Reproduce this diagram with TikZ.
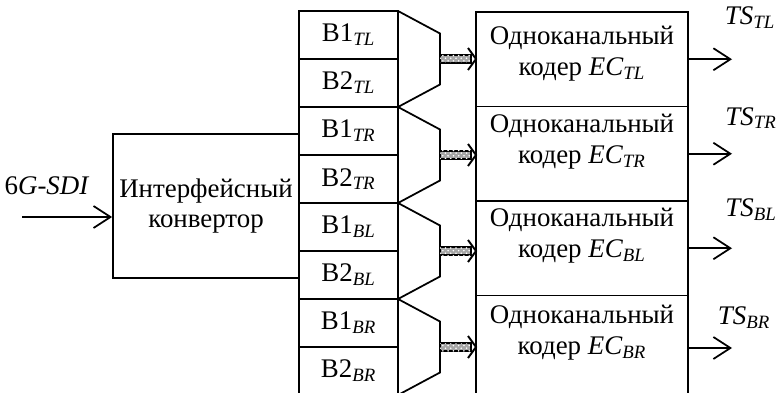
\documentclass[tikz,border=0pt]{standalone}
\usepackage{fontspec}
\setmainfont{Liberation Serif}
\usetikzlibrary{arrows.meta, positioning, calc, patterns}

\begin{document}
\begin{tikzpicture}[
  >={Straight Barb[length=0.34cm, width=0.44cm]},
  every node/.style={font=\fontsize{15.3}{17.6}\selectfont},
  conv/.style={rectangle, draw, line width=1pt, align=center,
    minimum width=3.72cm, minimum height=2.88cm},
  buf/.style={rectangle, draw, line width=1pt, outer sep=0pt, inner sep=0pt,
    minimum width=1.98cm, minimum height=0.96cm},
  coder/.style={rectangle, draw, line width=1pt, outer sep=0pt,
    minimum width=4.24cm, minimum height=1.89cm},
  codertext/.style={align=center, inner sep=0pt},
  mux/.style={draw, line width=1pt, line join=miter},
  sigarrow/.style={->, line width=1pt},
  busshaft/.style={draw, line width=1.1pt, fill=black!35,
    postaction={pattern=crosshatch dots, pattern color=white}},
  bushead/.style={draw, line width=1.1pt},
  ts/.style={font=\itshape\fontsize{15.3}{17.6}\selectfont}
]
  \useasboundingbox (0,0) rectangle (15.54,-7.86);

  % Input and interface converter
  \node[conv] (conv) at (4.12,-4.12) {Интерфейсный\\конвертор};
  \coordinate (sdi) at (0.44,-4.34);
  \node (sdilabel) at (0.94,-3.72) {6\textit{G-SDI}};
  \draw[sigarrow] (sdi) -- (sdi -| conv.west);

  % Buffer column
  \node[buf] (b1tl) at (6.97,-0.70) {B1\textsubscript{\textit{TL}}};
  \node[buf, below=0pt of b1tl] (b2tl) {B2\textsubscript{\textit{TL}}};
  \node[buf, below=0pt of b2tl] (b1tr) {B1\textsubscript{\textit{TR}}};
  \node[buf, below=0pt of b1tr] (b2tr) {B2\textsubscript{\textit{TR}}};
  \node[buf, below=0pt of b2tr] (b1bl) {B1\textsubscript{\textit{BL}}};
  \node[buf, below=0pt of b1bl] (b2bl) {B2\textsubscript{\textit{BL}}};
  \node[buf, below=0pt of b2bl] (b1br) {B1\textsubscript{\textit{BR}}};
  \node[buf, below=0pt of b1br] (b2br) {B2\textsubscript{\textit{BR}}};

  % Multiplexers
  \draw[mux] (b1tl.north east) -- ++(0.84,-0.45) -- ($(b2tl.south east)+(0.84,0.45)$) -- (b2tl.south east);
  \draw[mux] (b1tr.north east) -- ++(0.84,-0.45) -- ($(b2tr.south east)+(0.84,0.45)$) -- (b2tr.south east);
  \draw[mux] (b1bl.north east) -- ++(0.84,-0.45) -- ($(b2bl.south east)+(0.84,0.45)$) -- (b2bl.south east);
  \draw[mux] (b1br.north east) -- ++(0.84,-0.45) -- ($(b2br.south east)+(0.84,0.45)$) -- (b2br.south east);
  \coordinate (mtl) at ($(b1tl.south east)+(0.84,0)$);
  \coordinate (mtr) at ($(b1tr.south east)+(0.84,0)$);
  \coordinate (mbl) at ($(b1bl.south east)+(0.84,0)$);
  \coordinate (mbr) at ($(b1br.south east)+(0.84,0)$);

  % Single-channel coders
  \node[coder] (c1) at (11.64,-1.185) {};
  \node[coder, below=0pt of c1] (c2) {};
  \node[coder, below=0pt of c2] (c3) {};
  \node[coder, below=0pt of c3, minimum height=2.2cm] (c4) {};
  \node[codertext] (ct1) at ($(c1.north)+(0,-0.84)$) {Одноканальный\\кодер \textit{EC}\textsubscript{\textit{TL}}};
  \node[codertext] (ct2) at ($(c2.north)+(0,-0.70)$) {Одноканальный\\кодер \textit{EC}\textsubscript{\textit{TR}}};
  \node[codertext] (ct3) at ($(c3.north)+(0,-0.70)$) {Одноканальный\\кодер \textit{EC}\textsubscript{\textit{BL}}};
  \node[codertext] (ct4) at ($(c4.north)+(0,-0.75)$) {Одноканальный\\кодер \textit{EC}\textsubscript{\textit{BR}}};

  % Bus arrows mux -> coder
  \draw[busshaft] ($(mtl)+(0,0.08)$) rectangle ($(mtl -| c1.west)+(-0.1,-0.08)$);
  \draw[bushead] ($(mtl -| c1.west)+(-0.16,0.22)$) -- (mtl -| c1.west) -- ($(mtl -| c1.west)+(-0.16,-0.22)$);
  \draw[busshaft] ($(mtr)+(0,0.08)$) rectangle ($(mtr -| c2.west)+(-0.1,-0.08)$);
  \draw[bushead] ($(mtr -| c2.west)+(-0.16,0.22)$) -- (mtr -| c2.west) -- ($(mtr -| c2.west)+(-0.16,-0.22)$);
  \draw[busshaft] ($(mbl)+(0,0.08)$) rectangle ($(mbl -| c3.west)+(-0.1,-0.08)$);
  \draw[bushead] ($(mbl -| c3.west)+(-0.16,0.22)$) -- (mbl -| c3.west) -- ($(mbl -| c3.west)+(-0.16,-0.22)$);
  \draw[busshaft] ($(mbr)+(0,0.08)$) rectangle ($(mbr -| c4.west)+(-0.1,-0.08)$);
  \draw[bushead] ($(mbr -| c4.west)+(-0.16,0.22)$) -- (mbr -| c4.west) -- ($(mbr -| c4.west)+(-0.16,-0.22)$);

  % Transport stream outputs
  \coordinate (otl) at ($(c1.east)+(0.88,0)$);
  \coordinate (otr) at ($(c2.east)+(0.88,0)$);
  \coordinate (obl) at ($(c3.east)+(0.88,0)$);
  \coordinate (obr) at ($(c4.east)+(0.88,0.05)$);
  \draw[sigarrow] (c1.east) -- (otl);
  \draw[sigarrow] (c2.east) -- (otr);
  \draw[sigarrow] (c3.east) -- (obl);
  \draw[sigarrow] (obr -| c4.east) -- (obr);
  \node[ts] (tstl) at (15.00,-0.36) {TS\textsubscript{TL}};
  \node[ts] (tstr) at (15.02,-2.36) {TS\textsubscript{TR}};
  \node[ts] (tsbl) at (15.02,-4.20) {TS\textsubscript{BL}};
  \node[ts] (tsbr) at (14.88,-6.36) {TS\textsubscript{BR}};
\end{tikzpicture}
\end{document}
